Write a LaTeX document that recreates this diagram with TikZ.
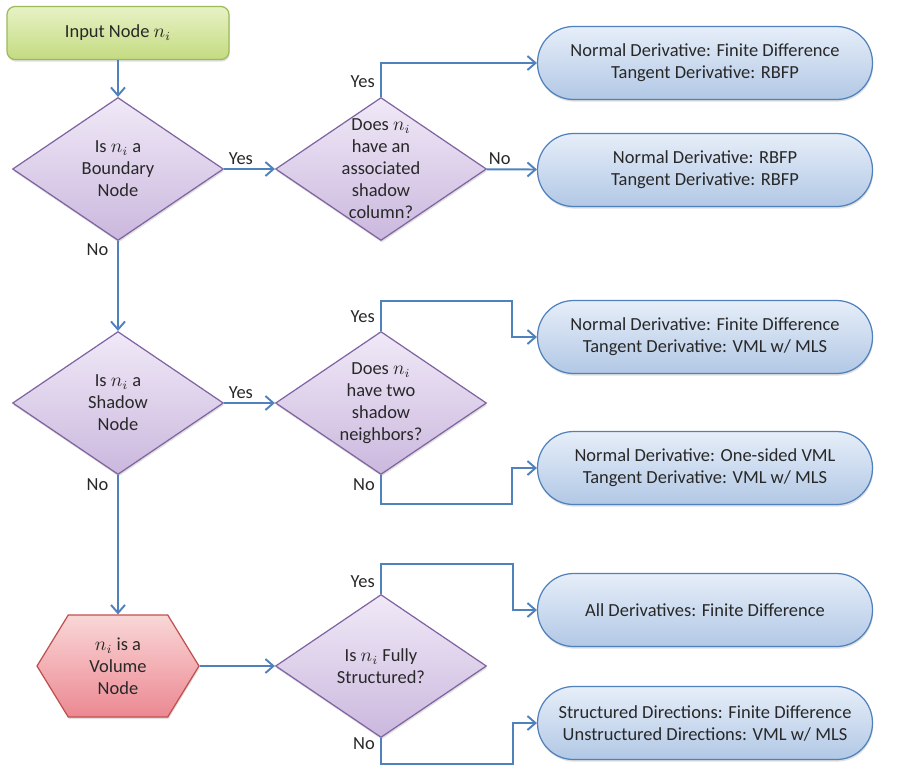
\documentclass[tikz,border=0pt]{standalone}
\usepackage{fontspec}
\setmainfont{Carlito}
\usetikzlibrary{shapes.geometric,shapes.symbols,shadows,arrows.meta}

\definecolor{flowblue}{RGB}{79,129,189}
\definecolor{startline}{RGB}{155,187,89}
\definecolor{starttop}{RGB}{231,242,198}
\definecolor{startbot}{RGB}{196,219,128}
\definecolor{askline}{RGB}{128,100,162}
\definecolor{asktop}{RGB}{240,233,247}
\definecolor{askbot}{RGB}{203,184,222}
\definecolor{resline}{RGB}{79,129,189}
\definecolor{restop}{RGB}{230,238,249}
\definecolor{resbot}{RGB}{178,200,229}
\definecolor{volline}{RGB}{192,80,77}
\definecolor{voltop}{RGB}{249,215,215}
\definecolor{volbot}{RGB}{236,136,146}
\definecolor{ink}{RGB}{40,40,40}

\tikzset{
  every node/.style={font=\fontsize{10.5}{12.5}\selectfont, text=ink},
  box/.style={line width=0.7pt, drop shadow={opacity=0.25, shadow xshift=0.4pt, shadow yshift=-1.2pt}},
  start/.style={box, rectangle, rounded corners=0.16cm, draw=startline,
    top color=starttop, bottom color=startbot, minimum width=4.44cm, minimum height=1.06cm},
  ask/.style={box, diamond, draw=askline, top color=asktop, bottom color=askbot,
    minimum width=4.22cm, minimum height=2.86cm, inner sep=0pt},
  result/.style={box, rectangle, rounded corners=0.72cm, draw=resline,
    top color=restop, bottom color=resbot, minimum width=6.7cm, minimum height=1.46cm, align=center},
  volume/.style={box, signal, signal to=east and west, signal pointer angle=117, draw=volline,
    top color=voltop, bottom color=volbot, minimum width=3.24cm, minimum height=2.04cm,
    align=center, inner sep=0pt},
  flow/.style={draw=flowblue, line width=1.1pt, -{Straight Barb[length=1.6mm,width=2.8mm]}},
  answer/.style={inner sep=2pt}
}

\begin{document}
\begin{tikzpicture}[x=0.02cm, y=-0.02cm]
  \useasboundingbox (0,0) rectangle (905,765);

  % left column: the questions on the node type
  \node[start] (input) at (118,33) {Input Node $n_i$};
  \node[ask, label={[align=center]center:Is $n_i$ a\\Boundary\\Node}] (bnd) at (118,169) {};
  \node[ask, label={[align=center]center:Is $n_i$ a\\Shadow\\Node}] (shd) at (118,403) {};
  \node[volume] (vol) at (118,666) {$n_i$ is a\\Volume\\Node};

  % middle column
  \node[ask, label={[align=center]center:Does $n_i$\\have an\\associated\\shadow\\column?}] (shcol) at (381,169) {};
  \node[ask, label={[align=center]center:Does $n_i$\\have two\\shadow\\neighbors?}] (twonb) at (381,403) {};
  \node[ask, label={[align=center]center:Is $n_i$ Fully\\Structured?}] (fully) at (381,666) {};

  % right column: derivative schemes
  \node[result] (fdrbfp) at (705,63) {Normal Derivative: Finite Difference\\Tangent Derivative: RBFP};
  \node[result] (rbfp) at (705,170) {Normal Derivative: RBFP\\Tangent Derivative: RBFP};
  \node[result] (fdvml) at (705,337) {Normal Derivative: Finite Difference\\Tangent Derivative: VML w/ MLS};
  \node[result] (onesided) at (705,468) {Normal Derivative: One-sided VML\\Tangent Derivative: VML w/ MLS};
  \node[result] (alldiff) at (705,610) {All Derivatives: Finite Difference};
  \node[result] (mixed) at (705,723) {Structured Directions: Finite Difference\\Unstructured Directions: VML w/ MLS};

  \draw[flow] (input) -- (bnd);
  \draw[flow] (bnd) -- node[answer, above, pos=0.33] {Yes} (shcol);
  \draw[flow] (bnd) -- node[answer, left=3pt, pos=0.1] {No} (shd);
  \draw[flow] (shcol.north) |- node[answer, left=1pt, pos=0.23] {Yes} (fdrbfp.west);
  \draw[flow] (shcol) -- node[answer, above, pos=0.26] {No} (rbfp);

  \draw[flow] (shd) -- node[answer, above, pos=0.33] {Yes} (twonb);
  \draw[flow] (shd) -- node[answer, left=3pt, pos=0.065] {No} (vol);
  \draw[flow] (twonb.north) -- node[answer, left=1pt, pos=0.47] {Yes} ++(0,-30)
    -| ([xshift=-0.5cm]fdvml.west) -- (fdvml.west);
  \draw[flow] (twonb.south) -- node[answer, left=1pt, pos=0.34] {No} ++(0,29)
    -| ([xshift=-0.5cm]onesided.west) -- (onesided.west);

  \draw[flow] (vol) -- (fully);
  \draw[flow] (fully.north) -- node[answer, left=1pt, pos=0.4] {Yes} ++(0,-30)
    -| ([xshift=-0.48cm]alldiff.west) -- (alldiff.west);
  \draw[flow] (fully.south) -- node[answer, left=1pt, pos=0.2] {No} ++(0,26)
    -| ([xshift=-0.48cm]mixed.west) -- (mixed.west);
\end{tikzpicture}
\end{document}
